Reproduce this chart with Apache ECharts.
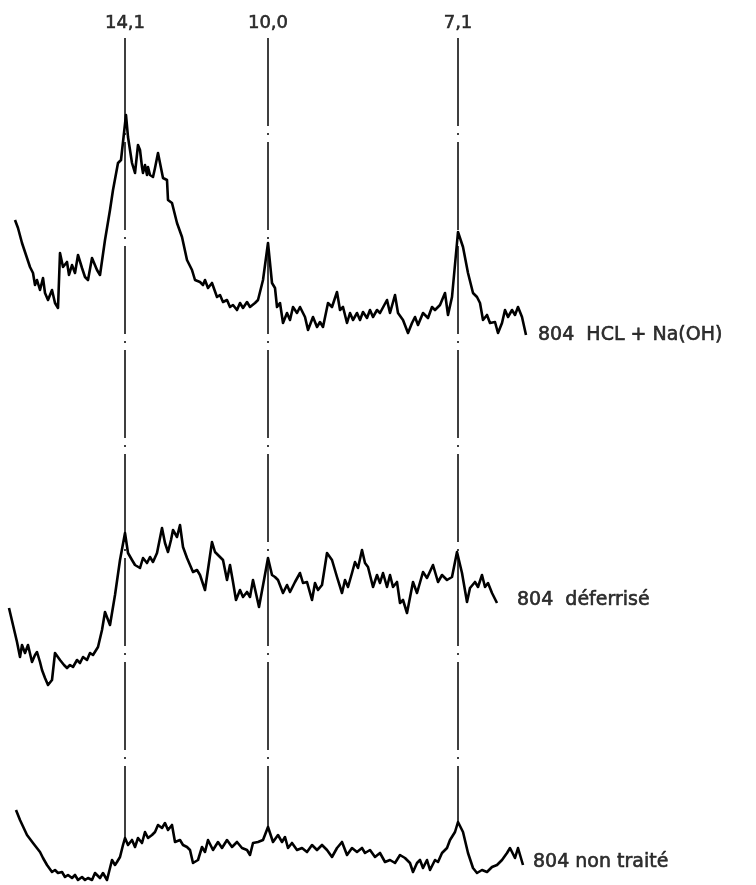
<!DOCTYPE html>
<html><head><meta charset="utf-8">
<script src="https://cdn.jsdelivr.net/npm/echarts@6/dist/echarts.min.js"></script>
<style>html,body{margin:0;padding:0;background:#fff}#c{width:756px;height:885px}</style>
</head><body><div id="c"></div>
<script>
// x: position along the diffractogram (chart units), y: trace level (chart units, downward)
const traceHCL = [[15,220],[18,228],[22,243],[26,255],[30,267],[33,273],[35,285],[37,280],[40,290],[43,278],[45,293],[48,300],[52,290],[55,303],[58,308],[60,253],[63,267],[67,262],[69,275],[72,265],[75,273],[78,255],[82,268],[85,277],[88,280],[92,258],[97,270],[100,275],[105,240],[110,210],[113,190],[118,163],[121,160],[123,142],[126,115],[128,137],[132,163],[135,173],[138,145],[140,150],[142,167],[143,173],[145,165],[147,175],[148,167],[150,175],[153,177],[155,168],[158,153],[160,163],[163,178],[167,180],[168,200],[172,203],[177,223],[182,237],[187,260],[192,270],[195,280],[200,282],[203,285],[205,280],[208,288],[212,283],[217,297],[220,295],[223,302],[227,300],[230,307],[233,305],[237,310],[240,303],[243,308],[247,302],[250,307],[255,303],[258,300],[263,280],[268,243],[272,283],[275,288],[277,307],[280,303],[283,323],[287,313],[290,320],[293,307],[297,313],[300,307],[305,317],[308,330],[313,317],[317,327],[320,322],[323,327],[328,303],[332,307],[337,292],[340,310],[343,307],[347,323],[350,313],[353,320],[357,313],[360,320],[363,312],[367,318],[370,310],[373,317],[377,310],[380,313],[387,300],[390,313],[395,295],[398,313],[403,320],[408,333],[412,323],[415,317],[418,325],[423,313],[428,318],[432,307],[435,310],[440,305],[445,293],[448,315],[452,297],[458,232],[463,247],[468,273],[473,293],[477,297],[480,303],[483,320],[487,315],[490,323],[495,322],[498,333],[502,323],[505,310],[508,317],[512,310],[515,315],[518,307],[522,317],[526,335]];
const traceDeferrise = [[9,608],[13,625],[17,642],[20,657],[22,645],[25,653],[28,645],[32,662],[35,655],[37,652],[40,662],[42,670],[45,678],[48,685],[52,680],[55,653],[60,660],[64,665],[67,668],[70,665],[73,667],[77,660],[80,663],[83,657],[87,660],[90,653],[93,655],[98,647],[102,630],[105,612],[110,625],[115,595],[120,560],[125,533],[128,553],[132,560],[135,565],[137,563],[140,568],[143,558],[147,563],[150,557],[153,562],[157,553],[162,528],[165,543],[168,552],[171,540],[173,530],[177,537],[180,525],[183,547],[187,558],[190,565],[193,572],[197,570],[200,575],[205,590],[212,542],[215,552],[218,555],[223,560],[227,580],[230,565],[233,582],[236,600],[240,590],[243,597],[247,592],[250,597],[253,580],[259,607],[264,580],[268,558],[272,575],[275,577],[278,580],[283,593],[287,585],[290,592],[295,582],[300,573],[303,583],[307,582],[312,600],[315,583],[318,590],[322,585],[327,553],[332,560],[337,577],[342,593],[345,580],[348,587],[352,573],[355,562],[358,568],[362,550],[365,563],[368,567],[373,587],[377,575],[380,583],[383,573],[387,587],[390,575],[393,587],[397,582],[400,603],[403,600],[407,613],[409,615],[413,582],[417,593],[423,572],[427,578],[433,565],[438,582],[442,575],[447,580],[452,577],[457,552],[462,573],[467,602],[470,588],[475,582],[478,587],[482,575],[485,587],[488,583],[492,593],[497,603]];
const traceNonTraite = [[16,810],[20,820],[27,835],[33,843],[40,852],[43,858],[47,865],[52,872],[55,870],[58,873],[62,872],[65,877],[68,875],[72,878],[75,875],[78,880],[82,877],[85,880],[88,878],[92,880],[95,873],[97,875],[100,878],[103,873],[107,880],[110,868],[112,860],[115,865],[117,862],[120,857],[123,845],[125,838],[128,845],[132,840],[135,847],[138,838],[142,843],[145,832],[148,838],[152,835],[155,832],[158,825],[162,828],[165,823],[168,830],[172,825],[175,842],[180,840],[183,845],[187,847],[190,850],[193,863],[198,860],[202,847],[205,852],[208,840],[213,850],[218,842],[222,848],[227,840],[232,847],[237,842],[242,848],[247,850],[250,855],[253,843],[258,842],[263,840],[268,827],[273,842],[278,835],[282,842],[285,837],[288,848],[292,843],[297,850],[302,848],[307,852],[312,845],[317,850],[322,845],[327,850],[332,857],[337,848],[342,842],[347,855],[352,848],[357,852],[362,848],[365,853],[370,850],[375,857],[380,853],[385,862],[390,860],[395,863],[400,855],[405,858],[410,863],[413,872],[417,863],[420,860],[423,868],[427,860],[430,870],[435,860],[438,862],[442,853],[447,848],[450,840],[455,832],[458,822],[463,832],[468,853],[473,868],[477,873],[482,870],[487,872],[492,867],[497,865],[502,860],[507,853],[510,848],[515,858],[518,848],[523,865]];

const peakLabels = ['14,1', '10,0', '7,1'];
const peakPos = [125, 268, 458];
const peakLineTop = 38;
const peakLineBottom = [838, 827, 822];
const peakLabelLevel = 23;

const traceNames = ['804  HCL + Na(OH)', '804  déferrisé', '804 non traité'];
const traceLabelPos = [[538, 335], [517, 600], [533, 862]];

const FONT = 'DejaVu Sans';
const lineSeries = (data) => ({
  type: 'line', data, symbol: 'none', smooth: false, silent: true,
  lineStyle: { color: '#000', width: 2.6, join: 'round' }
});

const chart = echarts.init(document.getElementById('c'));
chart.setOption({
  animation: false,
  backgroundColor: '#fff',
  grid: { left: 0, right: 0, top: 0, bottom: 0 },
  xAxis: { type: 'value', min: 0, max: 756, show: false },
  yAxis: { type: 'value', min: 0, max: 885, inverse: true, show: false },
  series: [
    {
      type: 'line', data: [], silent: true,
      markLine: {
        symbol: 'none', silent: true, label: { show: false },
        lineStyle: { color: '#000', width: 1.5, type: [88, 7, 2, 7] },
        data: peakPos.map((x, i) => [{ coord: [x, peakLineTop] }, { coord: [x, peakLineBottom[i]] }])
      }
    },
    lineSeries(traceHCL),
    lineSeries(traceDeferrise),
    lineSeries(traceNonTraite),
    {
      type: 'scatter', symbolSize: 0, silent: true,
      data: peakPos.map((x, i) => ({ value: [x, peakLabelLevel], name: peakLabels[i] })),
      label: { show: true, position: 'inside', formatter: p => p.name,
        color: '#000', fontFamily: FONT, fontSize: 18,
        textBorderColor: '#000', textBorderWidth: 0.6 }
    },
    {
      type: 'scatter', symbolSize: 0, silent: true,
      data: traceLabelPos.map((p, i) => ({ value: p, name: traceNames[i] })),
      label: { show: true, position: 'right', distance: 0, formatter: p => p.name,
        color: '#000', fontFamily: FONT, fontSize: 19,
        textBorderColor: '#000', textBorderWidth: 0.6 }
    }
  ]
});
</script></body></html>
